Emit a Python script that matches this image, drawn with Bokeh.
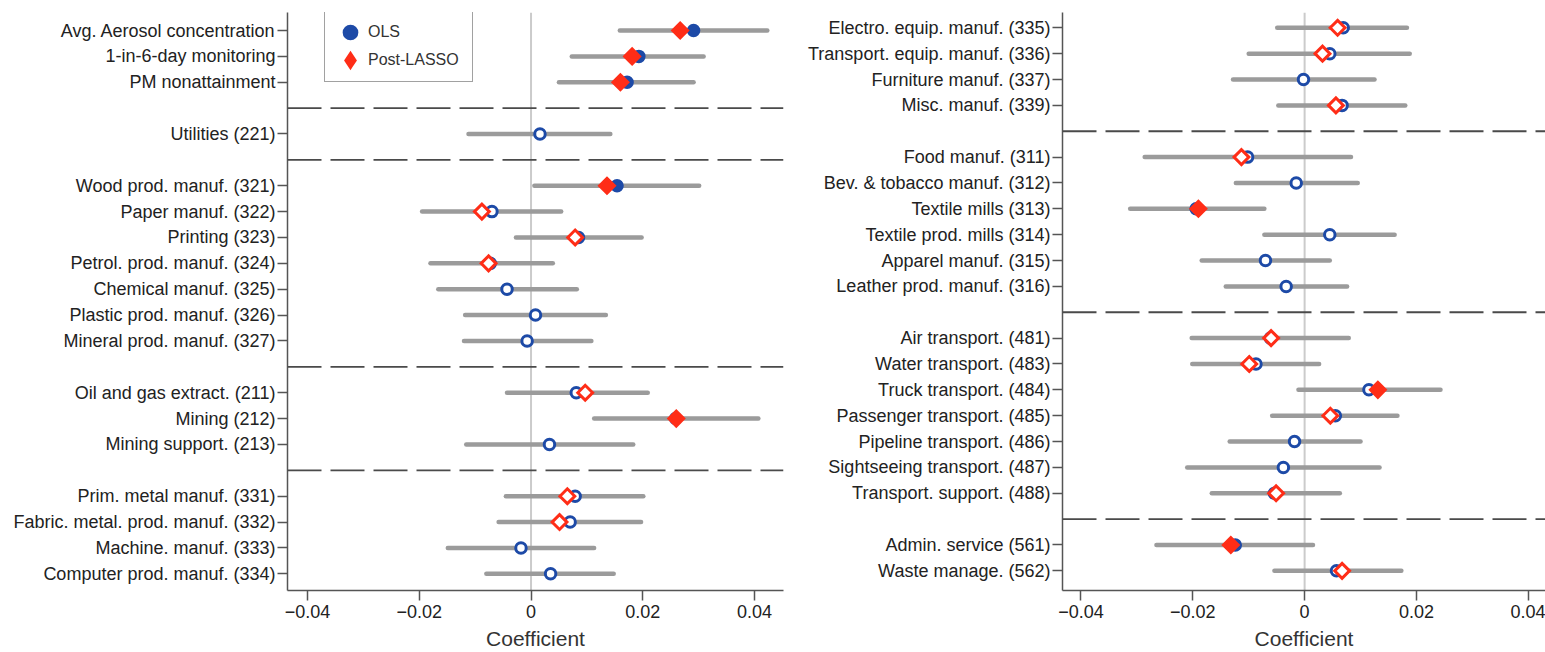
import math
from bokeh.plotting import figure
from bokeh.models import ColumnDataSource, Range1d, FixedTicker, Span, Legend, LegendItem
from bokeh.layouts import row
from bokeh.embed import file_html
from bokeh.resources import INLINE

BLUE = "#1d4aa7"
RED = "#ff2d17"
GRAY = "#9b9b9b"
AXIS = "#555555"
FONT = "Liberation Sans"

x_ticks = [-0.04, -0.02, 0, 0.02, 0.04]
x_tick_labels = ["\u22120.04", "\u22120.02", "0", "0.02", "0.04"]

# left panel, groups are split by dashed lines
left_groups = [
    ["Avg. Aerosol concentration", "1-in-6-day monitoring", "PM nonattainment"],
    ["Utilities (221)"],
    ["Wood prod. manuf. (321)", "Paper manuf. (322)", "Printing (323)", "Petrol. prod. manuf. (324)",
     "Chemical manuf. (325)", "Plastic prod. manuf. (326)", "Mineral prod. manuf. (327)"],
    ["Oil and gas extract. (211)", "Mining (212)", "Mining support. (213)"],
    ["Prim. metal manuf. (331)", "Fabric. metal. prod. manuf. (332)", "Machine. manuf. (333)",
     "Computer prod. manuf. (334)"],
]
left_ols = [0.0291, 0.0193, 0.0172, 0.0016, 0.0154, -0.0070, 0.0085, -0.0073, -0.0043,
            0.0008, -0.0007, 0.0081, 0.0259, 0.0033, 0.0079, 0.0070, -0.0018, 0.0035]
left_lo = [0.0159, 0.0073, 0.0050, -0.0112, 0.0006, -0.0195, -0.0027, -0.0180, -0.0166,
           -0.0118, -0.0120, -0.0043, 0.0113, -0.0116, -0.0045, -0.0058, -0.0149, -0.0080]
left_hi = [0.0423, 0.0309, 0.0291, 0.0142, 0.0301, 0.0054, 0.0198, 0.0039, 0.0082,
           0.0134, 0.0108, 0.0209, 0.0407, 0.0183, 0.0201, 0.0197, 0.0113, 0.0148]
left_ols_filled = [1, 1, 1, 0, 1, 0, 0, 0, 0, 0, 0, 0, 1, 0, 0, 0, 0, 0]
left_lasso = [0.0267, 0.0181, 0.0160, None, 0.0136, -0.0088, 0.0079, -0.0076, None,
              None, None, 0.0097, 0.0260, None, 0.0065, 0.0051, None, None]
left_lasso_filled = [1, 1, 1, 0, 1, 0, 0, 0, 0, 0, 0, 0, 1, 0, 0, 0, 0, 0]

# right panel
right_groups = [
    ["Electro. equip. manuf. (335)", "Transport. equip. manuf. (336)", "Furniture manuf. (337)",
     "Misc. manuf. (339)"],
    ["Food manuf. (311)", "Bev. & tobacco manuf. (312)", "Textile mills (313)", "Textile prod. mills (314)",
     "Apparel manuf. (315)", "Leather prod. manuf. (316)"],
    ["Air transport. (481)", "Water transport. (483)", "Truck transport. (484)", "Passenger transport. (485)",
     "Pipeline transport. (486)", "Sightseeing transport. (487)", "Transport. support. (488)"],
    ["Admin. service (561)", "Waste manage. (562)"],
]
right_ols = [0.0069, 0.0045, -0.0002, 0.0067, -0.0102, -0.0015, -0.0194, 0.0045, -0.0070, -0.0033,
             -0.0061, -0.0087, 0.0115, 0.0055, -0.0018, -0.0038, -0.0054, -0.0124, 0.0057]
right_lo = [-0.0049, -0.0100, -0.0128, -0.0047, -0.0286, -0.0123, -0.0312, -0.0072, -0.0184, -0.0141,
            -0.0202, -0.0201, -0.0011, -0.0058, -0.0134, -0.0210, -0.0166, -0.0265, -0.0054]
right_hi = [0.0183, 0.0188, 0.0125, 0.0180, 0.0083, 0.0095, -0.0072, 0.0161, 0.0045, 0.0076,
            0.0079, 0.0026, 0.0243, 0.0166, 0.0100, 0.0134, 0.0063, 0.0015, 0.0173]
right_ols_filled = [0, 0, 0, 0, 0, 0, 1, 0, 0, 0, 0, 0, 0, 0, 0, 0, 0, 1, 0]
right_lasso = [0.0059, 0.0032, None, 0.0056, -0.0113, None, -0.0190, None, None, None,
               -0.0060, -0.0099, 0.0131, 0.0046, None, None, -0.0051, -0.0132, 0.0067]
right_lasso_filled = [0, 0, 0, 0, 0, 0, 1, 0, 0, 0, 0, 0, 1, 0, 0, 0, 0, 1, 0]


def layout_rows(groups):
    # one empty row between groups holds the dashed line
    rows, seps, r = [], [], 0
    for i, g in enumerate(groups):
        if i > 0:
            seps.append(r)
            r += 1
        for _ in g:
            rows.append(r)
            r += 1
    return rows, seps


def panel(groups, ols, lo, hi, ols_filled, lasso, lasso_filled,
          width, border_left, border_right, x_range, y_range, with_legend=False):
    rows, seps = layout_rows(groups)
    labels = [lab for g in groups for lab in g]

    p = figure(width=width, height=652, output_backend="svg", toolbar_location=None,
               x_range=x_range, y_range=y_range,
               min_border_left=border_left, min_border_right=border_right,
               min_border_top=12, min_border_bottom=62)
    p.outline_line_color = None
    p.xgrid.visible = False
    p.ygrid.visible = False

    p.add_layout(Span(location=0, dimension="height", line_color="#cbcbcb",
                      line_width=2, level="underlay"))
    for s in seps:
        p.add_layout(Span(location=s, dimension="width", line_color="#4a4a4a",
                          line_width=1.8, line_dash="34 9"))

    src = ColumnDataSource(dict(
        row=rows, ols=ols, lo=lo, hi=hi,
        fill=[BLUE if f else "white" for f in ols_filled]))
    p.segment(x0="lo", y0="row", x1="hi", y1="row", source=src,
              line_color=GRAY, line_width=4.5, line_cap="round")
    p.scatter(x="ols", y="row", source=src, marker="circle", size=10.5,
              fill_color="fill", line_color=BLUE, line_width=3)

    keep = [i for i, v in enumerate(lasso) if v is not None]
    lsrc = ColumnDataSource(dict(
        row=[rows[i] for i in keep], lasso=[lasso[i] for i in keep],
        fill=[RED if lasso_filled[i] else "white" for i in keep]))
    p.scatter(x="lasso", y="row", source=lsrc, marker="square", angle=math.pi / 4,
              size=10.5, fill_color="fill", line_color=RED, line_width=3,
              line_join="miter")

    p.xaxis.ticker = FixedTicker(ticks=x_ticks)
    p.xaxis.major_label_overrides = dict(zip(x_ticks, x_tick_labels))
    p.xaxis.axis_label = "Coefficient"
    p.xaxis.axis_label_text_font = FONT
    p.xaxis.axis_label_text_font_size = "21px"
    p.xaxis.axis_label_text_font_style = "normal"
    p.xaxis.axis_label_text_color = "#333333"
    p.xaxis.axis_label_standoff = 6
    p.xaxis.major_label_standoff = 4

    p.yaxis.ticker = FixedTicker(ticks=rows)
    p.yaxis.major_label_overrides = dict(zip(rows, labels))
    p.yaxis.major_label_standoff = 2

    for ax in (p.xaxis, p.yaxis):
        ax.axis_line_color = AXIS
        ax.axis_line_width = 1.5
        ax.major_tick_line_color = AXIS
        ax.major_tick_line_width = 1.5
        ax.major_tick_out = 10
        ax.major_tick_in = 0
        ax.minor_tick_line_color = None
        ax.major_label_text_font = FONT
        ax.major_label_text_font_size = "18px"
        ax.major_label_text_color = "#222222"

    if with_legend:
        # legend-only glyphs: one NaN point each, so nothing shows in the plot
        k_ols = p.scatter(x=[math.nan], y=[math.nan], marker="circle", fill_color=BLUE,
                          line_color=BLUE, line_width=4.5)
        k_lasso = p.scatter(x=[math.nan], y=[math.nan], marker="diamond", fill_color=RED,
                            line_color=RED, line_width=4.5, line_join="miter")
        legend = Legend(items=[LegendItem(label="OLS", renderers=[k_ols], index=0),
                               LegendItem(label="Post-LASSO", renderers=[k_lasso], index=0)],
                        location=(37, 508), margin=0, padding=7, spacing=-1,
                        glyph_width=36, glyph_height=28, label_height=20, label_width=97,
                        label_standoff=0, border_line_color="#444444", border_line_width=1.4,
                        background_fill_alpha=1.0, label_text_font=FONT,
                        label_text_font_size="16px", label_text_color="#333333")
        p.add_layout(legend)
    return p


p1 = panel(left_groups, left_ols, left_lo, left_hi, left_ols_filled, left_lasso, left_lasso_filled,
           798, 287, 15, Range1d(-0.0436, 0.0452), Range1d(21.645, -0.696), with_legend=True)
p2 = panel(right_groups, right_ols, right_lo, right_hi, right_ols_filled, right_lasso, right_lasso_filled,
           747, 264, 0, Range1d(-0.0433, 0.04308), Range1d(21.76, -0.592))

p = row(p1, p2)
open("out.html", "w").write(file_html(p, INLINE))
